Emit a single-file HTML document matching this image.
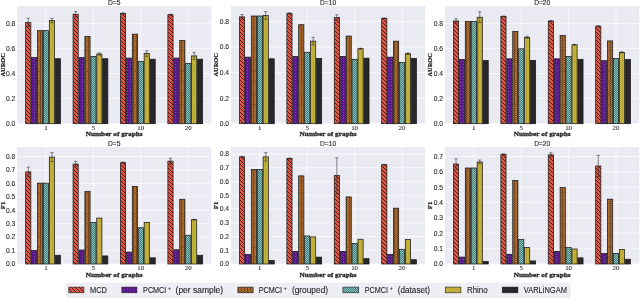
<!DOCTYPE html><html><head><meta charset="utf-8"><style>html,body{margin:0;padding:0;background:#fff;overflow:hidden;width:640px;height:298px}svg{display:block;will-change:transform}.yt{font-family:"Liberation Sans",sans-serif;font-size:6.7px;fill:#2a2a2a;stroke:#2a2a2a;stroke-width:0.1px}.xt{font-family:"Liberation Serif",serif;font-size:6.9px;fill:#262626;stroke:#262626;stroke-width:0.08px}.ti{font-family:"Liberation Sans",sans-serif;font-size:6.6px;fill:#262626;stroke:#262626;stroke-width:0.12px}.xl{font-family:"Liberation Serif",serif;font-weight:bold;font-size:7.1px;fill:#1a1a1a;stroke:#1a1a1a;stroke-width:0.26px}.yl{font-family:"Liberation Serif",serif;font-weight:bold;font-size:6.9px;fill:#1a1a1a;stroke:#1a1a1a;stroke-width:0.22px}.lg{font-family:"Liberation Sans",sans-serif;font-size:8.2px;fill:#262626;stroke:#262626;stroke-width:0.12px}</style></head><body><svg width="640" height="298" viewBox="0 0 640 298"><defs><pattern id="hMCD" patternUnits="userSpaceOnUse" width="4" height="4"><rect width="4" height="4" fill="#df5747"/><path d="M-1,-1 L5,5 M-1,3 L1,5 M3,-1 L5,1" stroke="#3d1812" stroke-width="0.9"/></pattern><pattern id="hPS" patternUnits="userSpaceOnUse" width="3" height="3"><rect width="3" height="3" fill="#5a1a8e"/><circle cx="1.5" cy="1.5" r="0.45" fill="#9b78c0"/></pattern><pattern id="hGR" patternUnits="userSpaceOnUse" width="3" height="2.2"><rect width="3" height="2.2" fill="#cc7e38"/><circle cx="1.5" cy="1.1" r="0.75" fill="none" stroke="#2e1a0a" stroke-width="0.62"/></pattern><pattern id="hDS" patternUnits="userSpaceOnUse" width="2" height="2"><rect width="2" height="2" fill="#477f7c"/><rect width="1" height="1" fill="#86c2bb"/><rect x="1" y="1" width="1" height="1" fill="#86c2bb"/></pattern><pattern id="hRH" patternUnits="userSpaceOnUse" width="3" height="3"><rect width="3" height="3" fill="#c3b23a"/><path d="M1.5,0 L1.5,3" stroke="#a89a30" stroke-width="0.4"/></pattern><pattern id="hVL" patternUnits="userSpaceOnUse" width="3" height="3"><rect width="3" height="3" fill="#262629"/><path d="M0,1.5 L3,1.5" stroke="#33353a" stroke-width="0.4"/></pattern></defs><rect x="17.2" y="6" width="194" height="117.7" fill="#eaeaf2"/><line x1="17.2" y1="123.7" x2="211.2" y2="123.7" stroke="#fff" stroke-width="0.65"/><text class="yt" x="15.2" y="126.05" text-anchor="end">0.0</text><line x1="17.2" y1="98.65" x2="211.2" y2="98.65" stroke="#fff" stroke-width="0.65"/><text class="yt" x="15.2" y="101" text-anchor="end">0.2</text><line x1="17.2" y1="73.6" x2="211.2" y2="73.6" stroke="#fff" stroke-width="0.65"/><text class="yt" x="15.2" y="75.95" text-anchor="end">0.4</text><line x1="17.2" y1="48.55" x2="211.2" y2="48.55" stroke="#fff" stroke-width="0.65"/><text class="yt" x="15.2" y="50.9" text-anchor="end">0.6</text><line x1="17.2" y1="23.5" x2="211.2" y2="23.5" stroke="#fff" stroke-width="0.65"/><text class="yt" x="15.2" y="25.85" text-anchor="end">0.8</text><line x1="46.02" y1="6" x2="46.02" y2="123.7" stroke="#fff" stroke-width="0.65"/><text class="xt" x="46.02" y="129.9" text-anchor="middle">1</text><line x1="93.42" y1="6" x2="93.42" y2="123.7" stroke="#fff" stroke-width="0.65"/><text class="xt" x="93.42" y="129.9" text-anchor="middle">5</text><line x1="140.82" y1="6" x2="140.82" y2="123.7" stroke="#fff" stroke-width="0.65"/><text class="xt" x="140.82" y="129.9" text-anchor="middle">10</text><line x1="188.22" y1="6" x2="188.22" y2="123.7" stroke="#fff" stroke-width="0.65"/><text class="xt" x="188.22" y="129.9" text-anchor="middle">20</text><rect x="25.67" y="22.37" width="5.17" height="101.33" fill="url(#hMCD)" stroke="#1a1a1a" stroke-width="0.75"/><rect x="31.59" y="57.57" width="5.17" height="66.13" fill="url(#hPS)" stroke="#1a1a1a" stroke-width="0.75"/><rect x="37.52" y="30.64" width="5.17" height="93.06" fill="url(#hGR)" stroke="#1a1a1a" stroke-width="0.75"/><rect x="43.43" y="30.64" width="5.17" height="93.06" fill="url(#hDS)" stroke="#1a1a1a" stroke-width="0.75"/><rect x="49.35" y="20.49" width="5.17" height="103.21" fill="url(#hRH)" stroke="#1a1a1a" stroke-width="0.75"/><rect x="55.27" y="58.7" width="5.17" height="65" fill="url(#hVL)" stroke="#1a1a1a" stroke-width="0.75"/><rect x="73.07" y="14.23" width="5.17" height="109.47" fill="url(#hMCD)" stroke="#1a1a1a" stroke-width="0.75"/><rect x="78.99" y="57.57" width="5.17" height="66.13" fill="url(#hPS)" stroke="#1a1a1a" stroke-width="0.75"/><rect x="84.91" y="36.4" width="5.17" height="87.3" fill="url(#hGR)" stroke="#1a1a1a" stroke-width="0.75"/><rect x="90.83" y="56.44" width="5.17" height="67.26" fill="url(#hDS)" stroke="#1a1a1a" stroke-width="0.75"/><rect x="96.75" y="54.06" width="5.17" height="69.64" fill="url(#hRH)" stroke="#1a1a1a" stroke-width="0.75"/><rect x="102.67" y="58.7" width="5.17" height="65" fill="url(#hVL)" stroke="#1a1a1a" stroke-width="0.75"/><rect x="120.47" y="13.61" width="5.17" height="110.09" fill="url(#hMCD)" stroke="#1a1a1a" stroke-width="0.75"/><rect x="126.39" y="58.07" width="5.17" height="65.63" fill="url(#hPS)" stroke="#1a1a1a" stroke-width="0.75"/><rect x="132.31" y="34.15" width="5.17" height="89.55" fill="url(#hGR)" stroke="#1a1a1a" stroke-width="0.75"/><rect x="138.23" y="61.58" width="5.17" height="62.12" fill="url(#hDS)" stroke="#1a1a1a" stroke-width="0.75"/><rect x="144.16" y="53.56" width="5.17" height="70.14" fill="url(#hRH)" stroke="#1a1a1a" stroke-width="0.75"/><rect x="150.07" y="59.2" width="5.17" height="64.5" fill="url(#hVL)" stroke="#1a1a1a" stroke-width="0.75"/><rect x="167.88" y="14.73" width="5.17" height="108.97" fill="url(#hMCD)" stroke="#1a1a1a" stroke-width="0.75"/><rect x="173.79" y="58.07" width="5.17" height="65.63" fill="url(#hPS)" stroke="#1a1a1a" stroke-width="0.75"/><rect x="179.72" y="40.41" width="5.17" height="83.29" fill="url(#hGR)" stroke="#1a1a1a" stroke-width="0.75"/><rect x="185.63" y="63.45" width="5.17" height="60.25" fill="url(#hDS)" stroke="#1a1a1a" stroke-width="0.75"/><rect x="191.56" y="55.94" width="5.17" height="67.76" fill="url(#hRH)" stroke="#1a1a1a" stroke-width="0.75"/><rect x="197.47" y="59.2" width="5.17" height="64.5" fill="url(#hVL)" stroke="#1a1a1a" stroke-width="0.75"/><path d="M28.26,18.24 V26.51 M26.66,18.24 H29.86 M26.66,26.51 H29.86" stroke="#2a2a2a" stroke-width="0.55" fill="none"/><path d="M51.94,18.24 V22.75 M50.34,18.24 H53.54 M50.34,22.75 H53.54" stroke="#2a2a2a" stroke-width="0.55" fill="none"/><path d="M75.66,11.48 V16.99 M74.06,11.48 H77.26 M74.06,16.99 H77.26" stroke="#2a2a2a" stroke-width="0.55" fill="none"/><path d="M99.34,52.93 V55.19 M97.74,52.93 H100.94 M97.74,55.19 H100.94" stroke="#2a2a2a" stroke-width="0.55" fill="none"/><path d="M123.06,12.85 V14.36 M121.46,12.85 H124.66 M121.46,14.36 H124.66" stroke="#2a2a2a" stroke-width="0.55" fill="none"/><path d="M146.74,50.8 V56.32 M145.14,50.8 H148.34 M145.14,56.32 H148.34" stroke="#2a2a2a" stroke-width="0.55" fill="none"/><path d="M170.46,14.23 V15.23 M168.86,14.23 H172.06 M168.86,15.23 H172.06" stroke="#2a2a2a" stroke-width="0.55" fill="none"/><path d="M194.14,52.43 V59.45 M192.54,52.43 H195.74 M192.54,59.45 H195.74" stroke="#2a2a2a" stroke-width="0.55" fill="none"/><text class="ti" x="114.2" y="4.9" text-anchor="middle" textLength="12.5" lengthAdjust="spacingAndGlyphs">D=5</text><text class="xl" x="114.2" y="136" text-anchor="middle" textLength="57" lengthAdjust="spacingAndGlyphs">Number of graphs</text><text class="yl" transform="translate(4.6,64.85) rotate(-90)" text-anchor="middle" textLength="23.5" lengthAdjust="spacingAndGlyphs">AUROC</text><rect x="231" y="6" width="194.2" height="117.7" fill="#eaeaf2"/><line x1="231" y1="123.7" x2="425.2" y2="123.7" stroke="#fff" stroke-width="0.65"/><text class="yt" x="229" y="126.05" text-anchor="end">0.0</text><line x1="231" y1="98.15" x2="425.2" y2="98.15" stroke="#fff" stroke-width="0.65"/><text class="yt" x="229" y="100.5" text-anchor="end">0.2</text><line x1="231" y1="72.6" x2="425.2" y2="72.6" stroke="#fff" stroke-width="0.65"/><text class="yt" x="229" y="74.95" text-anchor="end">0.4</text><line x1="231" y1="47.05" x2="425.2" y2="47.05" stroke="#fff" stroke-width="0.65"/><text class="yt" x="229" y="49.4" text-anchor="end">0.6</text><line x1="231" y1="21.5" x2="425.2" y2="21.5" stroke="#fff" stroke-width="0.65"/><text class="yt" x="229" y="23.85" text-anchor="end">0.8</text><line x1="259.82" y1="6" x2="259.82" y2="123.7" stroke="#fff" stroke-width="0.65"/><text class="xt" x="259.82" y="129.9" text-anchor="middle">1</text><line x1="307.22" y1="6" x2="307.22" y2="123.7" stroke="#fff" stroke-width="0.65"/><text class="xt" x="307.22" y="129.9" text-anchor="middle">5</text><line x1="354.62" y1="6" x2="354.62" y2="123.7" stroke="#fff" stroke-width="0.65"/><text class="xt" x="354.62" y="129.9" text-anchor="middle">10</text><line x1="402.02" y1="6" x2="402.02" y2="123.7" stroke="#fff" stroke-width="0.65"/><text class="xt" x="402.02" y="129.9" text-anchor="middle">20</text><rect x="239.47" y="16.9" width="5.17" height="106.8" fill="url(#hMCD)" stroke="#1a1a1a" stroke-width="0.75"/><rect x="245.39" y="57.14" width="5.17" height="66.56" fill="url(#hPS)" stroke="#1a1a1a" stroke-width="0.75"/><rect x="251.31" y="16.01" width="5.17" height="107.69" fill="url(#hGR)" stroke="#1a1a1a" stroke-width="0.75"/><rect x="257.24" y="16.01" width="5.17" height="107.69" fill="url(#hDS)" stroke="#1a1a1a" stroke-width="0.75"/><rect x="263.15" y="15.5" width="5.17" height="108.2" fill="url(#hRH)" stroke="#1a1a1a" stroke-width="0.75"/><rect x="269.07" y="58.8" width="5.17" height="64.9" fill="url(#hVL)" stroke="#1a1a1a" stroke-width="0.75"/><rect x="286.88" y="13.32" width="5.17" height="110.38" fill="url(#hMCD)" stroke="#1a1a1a" stroke-width="0.75"/><rect x="292.8" y="56.5" width="5.17" height="67.2" fill="url(#hPS)" stroke="#1a1a1a" stroke-width="0.75"/><rect x="298.71" y="24.69" width="5.17" height="99.01" fill="url(#hGR)" stroke="#1a1a1a" stroke-width="0.75"/><rect x="304.63" y="52.29" width="5.17" height="71.41" fill="url(#hDS)" stroke="#1a1a1a" stroke-width="0.75"/><rect x="310.56" y="41.17" width="5.17" height="82.53" fill="url(#hRH)" stroke="#1a1a1a" stroke-width="0.75"/><rect x="316.48" y="58.42" width="5.17" height="65.28" fill="url(#hVL)" stroke="#1a1a1a" stroke-width="0.75"/><rect x="334.27" y="17.54" width="5.17" height="106.16" fill="url(#hMCD)" stroke="#1a1a1a" stroke-width="0.75"/><rect x="340.19" y="56.5" width="5.17" height="67.2" fill="url(#hPS)" stroke="#1a1a1a" stroke-width="0.75"/><rect x="346.11" y="36.06" width="5.17" height="87.64" fill="url(#hGR)" stroke="#1a1a1a" stroke-width="0.75"/><rect x="352.03" y="59.31" width="5.17" height="64.39" fill="url(#hDS)" stroke="#1a1a1a" stroke-width="0.75"/><rect x="357.95" y="48.71" width="5.17" height="74.99" fill="url(#hRH)" stroke="#1a1a1a" stroke-width="0.75"/><rect x="363.88" y="58.16" width="5.17" height="65.54" fill="url(#hVL)" stroke="#1a1a1a" stroke-width="0.75"/><rect x="381.67" y="18.31" width="5.17" height="105.39" fill="url(#hMCD)" stroke="#1a1a1a" stroke-width="0.75"/><rect x="387.59" y="57.14" width="5.17" height="66.56" fill="url(#hPS)" stroke="#1a1a1a" stroke-width="0.75"/><rect x="393.51" y="41.17" width="5.17" height="82.53" fill="url(#hGR)" stroke="#1a1a1a" stroke-width="0.75"/><rect x="399.43" y="62.38" width="5.17" height="61.32" fill="url(#hDS)" stroke="#1a1a1a" stroke-width="0.75"/><rect x="405.35" y="53.69" width="5.17" height="70.01" fill="url(#hRH)" stroke="#1a1a1a" stroke-width="0.75"/><rect x="411.27" y="58.42" width="5.17" height="65.28" fill="url(#hVL)" stroke="#1a1a1a" stroke-width="0.75"/><path d="M242.06,14.6 V19.2 M240.46,14.6 H243.66 M240.46,19.2 H243.66" stroke="#2a2a2a" stroke-width="0.55" fill="none"/><path d="M265.74,11.66 V19.33 M264.14,11.66 H267.34 M264.14,19.33 H267.34" stroke="#2a2a2a" stroke-width="0.55" fill="none"/><path d="M289.46,12.81 V13.84 M287.86,12.81 H291.06 M287.86,13.84 H291.06" stroke="#2a2a2a" stroke-width="0.55" fill="none"/><path d="M313.14,37.34 V45.01 M311.54,37.34 H314.74 M311.54,45.01 H314.74" stroke="#2a2a2a" stroke-width="0.55" fill="none"/><path d="M336.86,14.73 V20.35 M335.26,14.73 H338.46 M335.26,20.35 H338.46" stroke="#2a2a2a" stroke-width="0.55" fill="none"/><path d="M360.54,48.2 V49.22 M358.94,48.2 H362.14 M358.94,49.22 H362.14" stroke="#2a2a2a" stroke-width="0.55" fill="none"/><path d="M384.26,17.92 V18.69 M382.66,17.92 H385.86 M382.66,18.69 H385.86" stroke="#2a2a2a" stroke-width="0.55" fill="none"/><path d="M407.94,52.93 V54.46 M406.34,52.93 H409.54 M406.34,54.46 H409.54" stroke="#2a2a2a" stroke-width="0.55" fill="none"/><text class="ti" x="328.1" y="4.9" text-anchor="middle" textLength="16" lengthAdjust="spacingAndGlyphs">D=10</text><text class="xl" x="328.1" y="136" text-anchor="middle" textLength="57" lengthAdjust="spacingAndGlyphs">Number of graphs</text><text class="yl" transform="translate(218.4,64.85) rotate(-90)" text-anchor="middle" textLength="23.5" lengthAdjust="spacingAndGlyphs">AUROC</text><rect x="445" y="6" width="194.3" height="117.7" fill="#eaeaf2"/><line x1="445" y1="123.7" x2="639.3" y2="123.7" stroke="#fff" stroke-width="0.65"/><text class="yt" x="443" y="126.05" text-anchor="end">0.0</text><line x1="445" y1="98.65" x2="639.3" y2="98.65" stroke="#fff" stroke-width="0.65"/><text class="yt" x="443" y="101" text-anchor="end">0.2</text><line x1="445" y1="73.6" x2="639.3" y2="73.6" stroke="#fff" stroke-width="0.65"/><text class="yt" x="443" y="75.95" text-anchor="end">0.4</text><line x1="445" y1="48.55" x2="639.3" y2="48.55" stroke="#fff" stroke-width="0.65"/><text class="yt" x="443" y="50.9" text-anchor="end">0.6</text><line x1="445" y1="23.5" x2="639.3" y2="23.5" stroke="#fff" stroke-width="0.65"/><text class="yt" x="443" y="25.85" text-anchor="end">0.8</text><line x1="473.82" y1="6" x2="473.82" y2="123.7" stroke="#fff" stroke-width="0.65"/><text class="xt" x="473.82" y="129.9" text-anchor="middle">1</text><line x1="521.22" y1="6" x2="521.22" y2="123.7" stroke="#fff" stroke-width="0.65"/><text class="xt" x="521.22" y="129.9" text-anchor="middle">5</text><line x1="568.62" y1="6" x2="568.62" y2="123.7" stroke="#fff" stroke-width="0.65"/><text class="xt" x="568.62" y="129.9" text-anchor="middle">10</text><line x1="616.02" y1="6" x2="616.02" y2="123.7" stroke="#fff" stroke-width="0.65"/><text class="xt" x="616.02" y="129.9" text-anchor="middle">20</text><rect x="453.48" y="21" width="5.17" height="102.7" fill="url(#hMCD)" stroke="#1a1a1a" stroke-width="0.75"/><rect x="459.4" y="59.57" width="5.17" height="64.13" fill="url(#hPS)" stroke="#1a1a1a" stroke-width="0.75"/><rect x="465.31" y="21.5" width="5.17" height="102.2" fill="url(#hGR)" stroke="#1a1a1a" stroke-width="0.75"/><rect x="471.24" y="21.5" width="5.17" height="102.2" fill="url(#hDS)" stroke="#1a1a1a" stroke-width="0.75"/><rect x="477.16" y="17.24" width="5.17" height="106.46" fill="url(#hRH)" stroke="#1a1a1a" stroke-width="0.75"/><rect x="483.08" y="60.45" width="5.17" height="63.25" fill="url(#hVL)" stroke="#1a1a1a" stroke-width="0.75"/><rect x="500.88" y="16.36" width="5.17" height="107.34" fill="url(#hMCD)" stroke="#1a1a1a" stroke-width="0.75"/><rect x="506.8" y="58.82" width="5.17" height="64.88" fill="url(#hPS)" stroke="#1a1a1a" stroke-width="0.75"/><rect x="512.72" y="31.52" width="5.17" height="92.18" fill="url(#hGR)" stroke="#1a1a1a" stroke-width="0.75"/><rect x="518.63" y="48.8" width="5.17" height="74.9" fill="url(#hDS)" stroke="#1a1a1a" stroke-width="0.75"/><rect x="524.55" y="37.28" width="5.17" height="86.42" fill="url(#hRH)" stroke="#1a1a1a" stroke-width="0.75"/><rect x="530.48" y="60.45" width="5.17" height="63.25" fill="url(#hVL)" stroke="#1a1a1a" stroke-width="0.75"/><rect x="548.27" y="21" width="5.17" height="102.7" fill="url(#hMCD)" stroke="#1a1a1a" stroke-width="0.75"/><rect x="554.19" y="58.82" width="5.17" height="64.88" fill="url(#hPS)" stroke="#1a1a1a" stroke-width="0.75"/><rect x="560.12" y="35.52" width="5.17" height="88.18" fill="url(#hGR)" stroke="#1a1a1a" stroke-width="0.75"/><rect x="566.03" y="56.57" width="5.17" height="67.13" fill="url(#hDS)" stroke="#1a1a1a" stroke-width="0.75"/><rect x="571.95" y="44.79" width="5.17" height="78.91" fill="url(#hRH)" stroke="#1a1a1a" stroke-width="0.75"/><rect x="577.88" y="59.32" width="5.17" height="64.38" fill="url(#hVL)" stroke="#1a1a1a" stroke-width="0.75"/><rect x="595.67" y="26.13" width="5.17" height="97.57" fill="url(#hMCD)" stroke="#1a1a1a" stroke-width="0.75"/><rect x="601.59" y="60.7" width="5.17" height="63" fill="url(#hPS)" stroke="#1a1a1a" stroke-width="0.75"/><rect x="607.51" y="40.91" width="5.17" height="82.79" fill="url(#hGR)" stroke="#1a1a1a" stroke-width="0.75"/><rect x="613.43" y="58.44" width="5.17" height="65.26" fill="url(#hDS)" stroke="#1a1a1a" stroke-width="0.75"/><rect x="619.35" y="52.31" width="5.17" height="71.39" fill="url(#hRH)" stroke="#1a1a1a" stroke-width="0.75"/><rect x="625.27" y="59.57" width="5.17" height="64.13" fill="url(#hVL)" stroke="#1a1a1a" stroke-width="0.75"/><path d="M456.06,18.74 V23.25 M454.46,18.74 H457.66 M454.46,23.25 H457.66" stroke="#2a2a2a" stroke-width="0.55" fill="none"/><path d="M479.74,11.73 V22.75 M478.14,11.73 H481.34 M478.14,22.75 H481.34" stroke="#2a2a2a" stroke-width="0.55" fill="none"/><path d="M503.46,15.98 V16.74 M501.86,15.98 H505.06 M501.86,16.74 H505.06" stroke="#2a2a2a" stroke-width="0.55" fill="none"/><path d="M527.14,36.28 V38.28 M525.54,36.28 H528.74 M525.54,38.28 H528.74" stroke="#2a2a2a" stroke-width="0.55" fill="none"/><path d="M550.86,20.49 V21.5 M549.26,20.49 H552.46 M549.26,21.5 H552.46" stroke="#2a2a2a" stroke-width="0.55" fill="none"/><path d="M574.54,44.42 V45.17 M572.94,44.42 H576.14 M572.94,45.17 H576.14" stroke="#2a2a2a" stroke-width="0.55" fill="none"/><path d="M598.26,25.75 V26.51 M596.66,25.75 H599.86 M596.66,26.51 H599.86" stroke="#2a2a2a" stroke-width="0.55" fill="none"/><path d="M621.94,51.81 V52.81 M620.34,51.81 H623.54 M620.34,52.81 H623.54" stroke="#2a2a2a" stroke-width="0.55" fill="none"/><text class="ti" x="542.15" y="4.9" text-anchor="middle" textLength="16" lengthAdjust="spacingAndGlyphs">D=20</text><text class="xl" x="542.15" y="136" text-anchor="middle" textLength="57" lengthAdjust="spacingAndGlyphs">Number of graphs</text><text class="yl" transform="translate(432.4,64.85) rotate(-90)" text-anchor="middle" textLength="23.5" lengthAdjust="spacingAndGlyphs">AUROC</text><rect x="17.2" y="147" width="194" height="117" fill="#eaeaf2"/><line x1="17.2" y1="264" x2="211.2" y2="264" stroke="#fff" stroke-width="0.65"/><text class="yt" x="15.2" y="266.35" text-anchor="end">0.0</text><line x1="17.2" y1="250.57" x2="211.2" y2="250.57" stroke="#fff" stroke-width="0.65"/><text class="yt" x="15.2" y="252.92" text-anchor="end">0.1</text><line x1="17.2" y1="237.14" x2="211.2" y2="237.14" stroke="#fff" stroke-width="0.65"/><text class="yt" x="15.2" y="239.49" text-anchor="end">0.2</text><line x1="17.2" y1="223.71" x2="211.2" y2="223.71" stroke="#fff" stroke-width="0.65"/><text class="yt" x="15.2" y="226.06" text-anchor="end">0.3</text><line x1="17.2" y1="210.28" x2="211.2" y2="210.28" stroke="#fff" stroke-width="0.65"/><text class="yt" x="15.2" y="212.63" text-anchor="end">0.4</text><line x1="17.2" y1="196.85" x2="211.2" y2="196.85" stroke="#fff" stroke-width="0.65"/><text class="yt" x="15.2" y="199.2" text-anchor="end">0.5</text><line x1="17.2" y1="183.42" x2="211.2" y2="183.42" stroke="#fff" stroke-width="0.65"/><text class="yt" x="15.2" y="185.77" text-anchor="end">0.6</text><line x1="17.2" y1="169.99" x2="211.2" y2="169.99" stroke="#fff" stroke-width="0.65"/><text class="yt" x="15.2" y="172.34" text-anchor="end">0.7</text><line x1="17.2" y1="156.56" x2="211.2" y2="156.56" stroke="#fff" stroke-width="0.65"/><text class="yt" x="15.2" y="158.91" text-anchor="end">0.8</text><line x1="46.02" y1="147" x2="46.02" y2="264" stroke="#fff" stroke-width="0.65"/><text class="xt" x="46.02" y="270.2" text-anchor="middle">1</text><line x1="93.42" y1="147" x2="93.42" y2="264" stroke="#fff" stroke-width="0.65"/><text class="xt" x="93.42" y="270.2" text-anchor="middle">5</text><line x1="140.82" y1="147" x2="140.82" y2="264" stroke="#fff" stroke-width="0.65"/><text class="xt" x="140.82" y="270.2" text-anchor="middle">10</text><line x1="188.22" y1="147" x2="188.22" y2="264" stroke="#fff" stroke-width="0.65"/><text class="xt" x="188.22" y="270.2" text-anchor="middle">20</text><rect x="25.67" y="171.87" width="5.17" height="92.13" fill="url(#hMCD)" stroke="#1a1a1a" stroke-width="0.75"/><rect x="31.59" y="250.57" width="5.17" height="13.43" fill="url(#hPS)" stroke="#1a1a1a" stroke-width="0.75"/><rect x="37.52" y="183.15" width="5.17" height="80.85" fill="url(#hGR)" stroke="#1a1a1a" stroke-width="0.75"/><rect x="43.43" y="183.15" width="5.17" height="80.85" fill="url(#hDS)" stroke="#1a1a1a" stroke-width="0.75"/><rect x="49.35" y="157.1" width="5.17" height="106.9" fill="url(#hRH)" stroke="#1a1a1a" stroke-width="0.75"/><rect x="55.27" y="255.27" width="5.17" height="8.73" fill="url(#hVL)" stroke="#1a1a1a" stroke-width="0.75"/><rect x="73.07" y="164.08" width="5.17" height="99.92" fill="url(#hMCD)" stroke="#1a1a1a" stroke-width="0.75"/><rect x="78.99" y="250.03" width="5.17" height="13.97" fill="url(#hPS)" stroke="#1a1a1a" stroke-width="0.75"/><rect x="84.91" y="191.34" width="5.17" height="72.66" fill="url(#hGR)" stroke="#1a1a1a" stroke-width="0.75"/><rect x="90.83" y="222.37" width="5.17" height="41.63" fill="url(#hDS)" stroke="#1a1a1a" stroke-width="0.75"/><rect x="96.75" y="218.07" width="5.17" height="45.93" fill="url(#hRH)" stroke="#1a1a1a" stroke-width="0.75"/><rect x="102.67" y="255.94" width="5.17" height="8.06" fill="url(#hVL)" stroke="#1a1a1a" stroke-width="0.75"/><rect x="120.47" y="162.74" width="5.17" height="101.26" fill="url(#hMCD)" stroke="#1a1a1a" stroke-width="0.75"/><rect x="126.39" y="252.05" width="5.17" height="11.95" fill="url(#hPS)" stroke="#1a1a1a" stroke-width="0.75"/><rect x="132.31" y="186.37" width="5.17" height="77.63" fill="url(#hGR)" stroke="#1a1a1a" stroke-width="0.75"/><rect x="138.23" y="227.74" width="5.17" height="36.26" fill="url(#hDS)" stroke="#1a1a1a" stroke-width="0.75"/><rect x="144.16" y="222.37" width="5.17" height="41.63" fill="url(#hRH)" stroke="#1a1a1a" stroke-width="0.75"/><rect x="150.07" y="257.82" width="5.17" height="6.18" fill="url(#hVL)" stroke="#1a1a1a" stroke-width="0.75"/><rect x="167.88" y="161.13" width="5.17" height="102.87" fill="url(#hMCD)" stroke="#1a1a1a" stroke-width="0.75"/><rect x="173.79" y="249.76" width="5.17" height="14.24" fill="url(#hPS)" stroke="#1a1a1a" stroke-width="0.75"/><rect x="179.72" y="199.27" width="5.17" height="64.73" fill="url(#hGR)" stroke="#1a1a1a" stroke-width="0.75"/><rect x="185.63" y="235.26" width="5.17" height="28.74" fill="url(#hDS)" stroke="#1a1a1a" stroke-width="0.75"/><rect x="191.56" y="219.68" width="5.17" height="44.32" fill="url(#hRH)" stroke="#1a1a1a" stroke-width="0.75"/><rect x="197.47" y="255.27" width="5.17" height="8.73" fill="url(#hVL)" stroke="#1a1a1a" stroke-width="0.75"/><path d="M28.26,167.17 V176.57 M26.66,167.17 H29.86 M26.66,176.57 H29.86" stroke="#2a2a2a" stroke-width="0.55" fill="none"/><path d="M51.94,152.67 V161.53 M50.34,152.67 H53.54 M50.34,161.53 H53.54" stroke="#2a2a2a" stroke-width="0.55" fill="none"/><path d="M75.66,161.39 V166.77 M74.06,161.39 H77.26 M74.06,166.77 H77.26" stroke="#2a2a2a" stroke-width="0.55" fill="none"/><path d="M123.06,161.93 V163.54 M121.46,161.93 H124.66 M121.46,163.54 H124.66" stroke="#2a2a2a" stroke-width="0.55" fill="none"/><path d="M170.46,158.31 V163.95 M168.86,158.31 H172.06 M168.86,163.95 H172.06" stroke="#2a2a2a" stroke-width="0.55" fill="none"/><path d="M194.14,219.28 V220.08 M192.54,219.28 H195.74 M192.54,220.08 H195.74" stroke="#2a2a2a" stroke-width="0.55" fill="none"/><text class="ti" x="114.2" y="145.9" text-anchor="middle" textLength="12.5" lengthAdjust="spacingAndGlyphs">D=5</text><text class="xl" x="114.2" y="276.8" text-anchor="middle" textLength="57" lengthAdjust="spacingAndGlyphs">Number of graphs</text><text class="yl" transform="translate(4.6,205.5) rotate(-90)" text-anchor="middle">F1</text><rect x="231" y="147" width="194.2" height="117" fill="#eaeaf2"/><line x1="231" y1="264" x2="425.2" y2="264" stroke="#fff" stroke-width="0.65"/><text class="yt" x="229" y="266.35" text-anchor="end">0.0</text><line x1="231" y1="250.25" x2="425.2" y2="250.25" stroke="#fff" stroke-width="0.65"/><text class="yt" x="229" y="252.6" text-anchor="end">0.1</text><line x1="231" y1="236.5" x2="425.2" y2="236.5" stroke="#fff" stroke-width="0.65"/><text class="yt" x="229" y="238.85" text-anchor="end">0.2</text><line x1="231" y1="222.75" x2="425.2" y2="222.75" stroke="#fff" stroke-width="0.65"/><text class="yt" x="229" y="225.1" text-anchor="end">0.3</text><line x1="231" y1="209" x2="425.2" y2="209" stroke="#fff" stroke-width="0.65"/><text class="yt" x="229" y="211.35" text-anchor="end">0.4</text><line x1="231" y1="195.25" x2="425.2" y2="195.25" stroke="#fff" stroke-width="0.65"/><text class="yt" x="229" y="197.6" text-anchor="end">0.5</text><line x1="231" y1="181.5" x2="425.2" y2="181.5" stroke="#fff" stroke-width="0.65"/><text class="yt" x="229" y="183.85" text-anchor="end">0.6</text><line x1="231" y1="167.75" x2="425.2" y2="167.75" stroke="#fff" stroke-width="0.65"/><text class="yt" x="229" y="170.1" text-anchor="end">0.7</text><line x1="231" y1="154" x2="425.2" y2="154" stroke="#fff" stroke-width="0.65"/><text class="yt" x="229" y="156.35" text-anchor="end">0.8</text><line x1="259.82" y1="147" x2="259.82" y2="264" stroke="#fff" stroke-width="0.65"/><text class="xt" x="259.82" y="270.2" text-anchor="middle">1</text><line x1="307.22" y1="147" x2="307.22" y2="264" stroke="#fff" stroke-width="0.65"/><text class="xt" x="307.22" y="270.2" text-anchor="middle">5</text><line x1="354.62" y1="147" x2="354.62" y2="264" stroke="#fff" stroke-width="0.65"/><text class="xt" x="354.62" y="270.2" text-anchor="middle">10</text><line x1="402.02" y1="147" x2="402.02" y2="264" stroke="#fff" stroke-width="0.65"/><text class="xt" x="402.02" y="270.2" text-anchor="middle">20</text><rect x="239.47" y="156.89" width="5.17" height="107.11" fill="url(#hMCD)" stroke="#1a1a1a" stroke-width="0.75"/><rect x="245.39" y="254.38" width="5.17" height="9.62" fill="url(#hPS)" stroke="#1a1a1a" stroke-width="0.75"/><rect x="251.31" y="169.54" width="5.17" height="94.46" fill="url(#hGR)" stroke="#1a1a1a" stroke-width="0.75"/><rect x="257.24" y="169.54" width="5.17" height="94.46" fill="url(#hDS)" stroke="#1a1a1a" stroke-width="0.75"/><rect x="263.15" y="156.89" width="5.17" height="107.11" fill="url(#hRH)" stroke="#1a1a1a" stroke-width="0.75"/><rect x="269.07" y="260.43" width="5.17" height="3.57" fill="url(#hVL)" stroke="#1a1a1a" stroke-width="0.75"/><rect x="286.88" y="158.54" width="5.17" height="105.46" fill="url(#hMCD)" stroke="#1a1a1a" stroke-width="0.75"/><rect x="292.8" y="251.35" width="5.17" height="12.65" fill="url(#hPS)" stroke="#1a1a1a" stroke-width="0.75"/><rect x="298.71" y="175.86" width="5.17" height="88.14" fill="url(#hGR)" stroke="#1a1a1a" stroke-width="0.75"/><rect x="304.63" y="235.95" width="5.17" height="28.05" fill="url(#hDS)" stroke="#1a1a1a" stroke-width="0.75"/><rect x="310.56" y="236.91" width="5.17" height="27.09" fill="url(#hRH)" stroke="#1a1a1a" stroke-width="0.75"/><rect x="316.48" y="257.12" width="5.17" height="6.88" fill="url(#hVL)" stroke="#1a1a1a" stroke-width="0.75"/><rect x="334.27" y="175.59" width="5.17" height="88.41" fill="url(#hMCD)" stroke="#1a1a1a" stroke-width="0.75"/><rect x="340.19" y="251.35" width="5.17" height="12.65" fill="url(#hPS)" stroke="#1a1a1a" stroke-width="0.75"/><rect x="346.11" y="196.9" width="5.17" height="67.1" fill="url(#hGR)" stroke="#1a1a1a" stroke-width="0.75"/><rect x="352.03" y="243.38" width="5.17" height="20.62" fill="url(#hDS)" stroke="#1a1a1a" stroke-width="0.75"/><rect x="357.95" y="239.25" width="5.17" height="24.75" fill="url(#hRH)" stroke="#1a1a1a" stroke-width="0.75"/><rect x="363.88" y="258.64" width="5.17" height="5.36" fill="url(#hVL)" stroke="#1a1a1a" stroke-width="0.75"/><rect x="381.67" y="164.73" width="5.17" height="99.27" fill="url(#hMCD)" stroke="#1a1a1a" stroke-width="0.75"/><rect x="387.59" y="254.38" width="5.17" height="9.62" fill="url(#hPS)" stroke="#1a1a1a" stroke-width="0.75"/><rect x="393.51" y="208.18" width="5.17" height="55.82" fill="url(#hGR)" stroke="#1a1a1a" stroke-width="0.75"/><rect x="399.43" y="249.29" width="5.17" height="14.71" fill="url(#hDS)" stroke="#1a1a1a" stroke-width="0.75"/><rect x="405.35" y="239.53" width="5.17" height="24.47" fill="url(#hRH)" stroke="#1a1a1a" stroke-width="0.75"/><rect x="411.27" y="259.74" width="5.17" height="4.26" fill="url(#hVL)" stroke="#1a1a1a" stroke-width="0.75"/><path d="M242.06,156.34 V157.44 M240.46,156.34 H243.66 M240.46,157.44 H243.66" stroke="#2a2a2a" stroke-width="0.55" fill="none"/><path d="M265.74,152.62 V161.15 M264.14,152.62 H267.34 M264.14,161.15 H267.34" stroke="#2a2a2a" stroke-width="0.55" fill="none"/><path d="M289.46,157.99 V159.09 M287.86,157.99 H291.06 M287.86,159.09 H291.06" stroke="#2a2a2a" stroke-width="0.55" fill="none"/><path d="M336.86,157.71 V193.46 M335.26,157.71 H338.46 M335.26,193.46 H338.46" stroke="#2a2a2a" stroke-width="0.55" fill="none"/><path d="M384.26,164.45 V165 M382.66,164.45 H385.86 M382.66,165 H385.86" stroke="#2a2a2a" stroke-width="0.55" fill="none"/><text class="ti" x="328.1" y="145.9" text-anchor="middle" textLength="16" lengthAdjust="spacingAndGlyphs">D=10</text><text class="xl" x="328.1" y="276.8" text-anchor="middle" textLength="57" lengthAdjust="spacingAndGlyphs">Number of graphs</text><text class="yl" transform="translate(218.4,205.5) rotate(-90)" text-anchor="middle">F1</text><rect x="445" y="147" width="194.3" height="117" fill="#eaeaf2"/><line x1="445" y1="264" x2="639.3" y2="264" stroke="#fff" stroke-width="0.65"/><text class="yt" x="443" y="266.35" text-anchor="end">0.0</text><line x1="445" y1="248.64" x2="639.3" y2="248.64" stroke="#fff" stroke-width="0.65"/><text class="yt" x="443" y="250.99" text-anchor="end">0.1</text><line x1="445" y1="233.28" x2="639.3" y2="233.28" stroke="#fff" stroke-width="0.65"/><text class="yt" x="443" y="235.63" text-anchor="end">0.2</text><line x1="445" y1="217.92" x2="639.3" y2="217.92" stroke="#fff" stroke-width="0.65"/><text class="yt" x="443" y="220.27" text-anchor="end">0.3</text><line x1="445" y1="202.56" x2="639.3" y2="202.56" stroke="#fff" stroke-width="0.65"/><text class="yt" x="443" y="204.91" text-anchor="end">0.4</text><line x1="445" y1="187.2" x2="639.3" y2="187.2" stroke="#fff" stroke-width="0.65"/><text class="yt" x="443" y="189.55" text-anchor="end">0.5</text><line x1="445" y1="171.84" x2="639.3" y2="171.84" stroke="#fff" stroke-width="0.65"/><text class="yt" x="443" y="174.19" text-anchor="end">0.6</text><line x1="445" y1="156.48" x2="639.3" y2="156.48" stroke="#fff" stroke-width="0.65"/><text class="yt" x="443" y="158.83" text-anchor="end">0.7</text><line x1="473.82" y1="147" x2="473.82" y2="264" stroke="#fff" stroke-width="0.65"/><text class="xt" x="473.82" y="270.2" text-anchor="middle">1</text><line x1="521.22" y1="147" x2="521.22" y2="264" stroke="#fff" stroke-width="0.65"/><text class="xt" x="521.22" y="270.2" text-anchor="middle">5</text><line x1="568.62" y1="147" x2="568.62" y2="264" stroke="#fff" stroke-width="0.65"/><text class="xt" x="568.62" y="270.2" text-anchor="middle">10</text><line x1="616.02" y1="147" x2="616.02" y2="264" stroke="#fff" stroke-width="0.65"/><text class="xt" x="616.02" y="270.2" text-anchor="middle">20</text><rect x="453.48" y="164.01" width="5.17" height="99.99" fill="url(#hMCD)" stroke="#1a1a1a" stroke-width="0.75"/><rect x="459.4" y="257.09" width="5.17" height="6.91" fill="url(#hPS)" stroke="#1a1a1a" stroke-width="0.75"/><rect x="465.31" y="168" width="5.17" height="96" fill="url(#hGR)" stroke="#1a1a1a" stroke-width="0.75"/><rect x="471.24" y="168" width="5.17" height="96" fill="url(#hDS)" stroke="#1a1a1a" stroke-width="0.75"/><rect x="477.16" y="162.01" width="5.17" height="101.99" fill="url(#hRH)" stroke="#1a1a1a" stroke-width="0.75"/><rect x="483.08" y="261.39" width="5.17" height="2.61" fill="url(#hVL)" stroke="#1a1a1a" stroke-width="0.75"/><rect x="500.88" y="154.33" width="5.17" height="109.67" fill="url(#hMCD)" stroke="#1a1a1a" stroke-width="0.75"/><rect x="506.8" y="254.32" width="5.17" height="9.68" fill="url(#hPS)" stroke="#1a1a1a" stroke-width="0.75"/><rect x="512.72" y="180.44" width="5.17" height="83.56" fill="url(#hGR)" stroke="#1a1a1a" stroke-width="0.75"/><rect x="518.63" y="239.58" width="5.17" height="24.42" fill="url(#hDS)" stroke="#1a1a1a" stroke-width="0.75"/><rect x="524.55" y="247.56" width="5.17" height="16.44" fill="url(#hRH)" stroke="#1a1a1a" stroke-width="0.75"/><rect x="530.48" y="260.93" width="5.17" height="3.07" fill="url(#hVL)" stroke="#1a1a1a" stroke-width="0.75"/><rect x="548.27" y="154.79" width="5.17" height="109.21" fill="url(#hMCD)" stroke="#1a1a1a" stroke-width="0.75"/><rect x="554.19" y="251.4" width="5.17" height="12.6" fill="url(#hPS)" stroke="#1a1a1a" stroke-width="0.75"/><rect x="560.12" y="187.51" width="5.17" height="76.49" fill="url(#hGR)" stroke="#1a1a1a" stroke-width="0.75"/><rect x="566.03" y="247.56" width="5.17" height="16.44" fill="url(#hDS)" stroke="#1a1a1a" stroke-width="0.75"/><rect x="571.95" y="248.95" width="5.17" height="15.05" fill="url(#hRH)" stroke="#1a1a1a" stroke-width="0.75"/><rect x="577.88" y="257.86" width="5.17" height="6.14" fill="url(#hVL)" stroke="#1a1a1a" stroke-width="0.75"/><rect x="595.67" y="166" width="5.17" height="98" fill="url(#hMCD)" stroke="#1a1a1a" stroke-width="0.75"/><rect x="601.59" y="253.56" width="5.17" height="10.44" fill="url(#hPS)" stroke="#1a1a1a" stroke-width="0.75"/><rect x="607.51" y="199.18" width="5.17" height="64.82" fill="url(#hGR)" stroke="#1a1a1a" stroke-width="0.75"/><rect x="613.43" y="253.56" width="5.17" height="10.44" fill="url(#hDS)" stroke="#1a1a1a" stroke-width="0.75"/><rect x="619.35" y="249.41" width="5.17" height="14.59" fill="url(#hRH)" stroke="#1a1a1a" stroke-width="0.75"/><rect x="625.27" y="259.24" width="5.17" height="4.76" fill="url(#hVL)" stroke="#1a1a1a" stroke-width="0.75"/><path d="M456.06,158.78 V169.23 M454.46,158.78 H457.66 M454.46,169.23 H457.66" stroke="#2a2a2a" stroke-width="0.55" fill="none"/><path d="M479.74,160.01 V164.01 M478.14,160.01 H481.34 M478.14,164.01 H481.34" stroke="#2a2a2a" stroke-width="0.55" fill="none"/><path d="M503.46,153.87 V154.79 M501.86,153.87 H505.06 M501.86,154.79 H505.06" stroke="#2a2a2a" stroke-width="0.55" fill="none"/><path d="M550.86,152.79 V156.79 M549.26,152.79 H552.46 M549.26,156.79 H552.46" stroke="#2a2a2a" stroke-width="0.55" fill="none"/><path d="M598.26,155.4 V176.6 M596.66,155.4 H599.86 M596.66,176.6 H599.86" stroke="#2a2a2a" stroke-width="0.55" fill="none"/><text class="ti" x="542.15" y="145.9" text-anchor="middle" textLength="16" lengthAdjust="spacingAndGlyphs">D=20</text><text class="xl" x="542.15" y="276.8" text-anchor="middle" textLength="57" lengthAdjust="spacingAndGlyphs">Number of graphs</text><text class="yl" transform="translate(432.4,205.5) rotate(-90)" text-anchor="middle">F1</text><rect x="66.2" y="283.3" width="504" height="14.5" rx="2" ry="2" fill="#eeeef4" stroke="#e2e2ea" stroke-width="0.6"/><rect x="68.8" y="287.1" width="15.1" height="5.7" fill="url(#hMCD)" stroke="#1a1a1a" stroke-width="0.6"/><rect x="121.9" y="287.1" width="15" height="5.7" fill="url(#hPS)" stroke="#1a1a1a" stroke-width="0.6"/><rect x="237.9" y="287.1" width="15.2" height="5.7" fill="url(#hGR)" stroke="#1a1a1a" stroke-width="0.6"/><rect x="342.9" y="287.1" width="15.85" height="5.7" fill="url(#hDS)" stroke="#1a1a1a" stroke-width="0.6"/><rect x="445.25" y="287.1" width="15.65" height="5.7" fill="url(#hRH)" stroke="#1a1a1a" stroke-width="0.6"/><rect x="502.25" y="287.1" width="15.65" height="5.7" fill="url(#hVL)" stroke="#1a1a1a" stroke-width="0.6"/><text class="lg" x="90" y="292.7" textLength="16.9" lengthAdjust="spacingAndGlyphs">MCD</text><text class="lg" x="143.1" y="292.7" textLength="23.2" lengthAdjust="spacingAndGlyphs">PCMCI</text><text class="lg" x="168.1" y="290.1" style="font-size:5px">+</text><text class="lg" x="175.6" y="292.7" textLength="47.5" lengthAdjust="spacingAndGlyphs">(per sample)</text><text class="lg" x="258.75" y="292.7" textLength="23.25" lengthAdjust="spacingAndGlyphs">PCMCI</text><text class="lg" x="283.8" y="290.1" style="font-size:5px">+</text><text class="lg" x="291.9" y="292.7" textLength="36.2" lengthAdjust="spacingAndGlyphs">(grouped)</text><text class="lg" x="364.75" y="292.7" textLength="23.25" lengthAdjust="spacingAndGlyphs">PCMCI</text><text class="lg" x="389.8" y="290.1" style="font-size:5px">+</text><text class="lg" x="397.8" y="292.7" textLength="32.2" lengthAdjust="spacingAndGlyphs">(dataset)</text><text class="lg" x="466.9" y="292.7" textLength="20.85" lengthAdjust="spacingAndGlyphs">Rhino</text><text class="lg" x="523.75" y="292.7" textLength="43.15" lengthAdjust="spacingAndGlyphs">VARLiNGAM</text></svg></body></html>
